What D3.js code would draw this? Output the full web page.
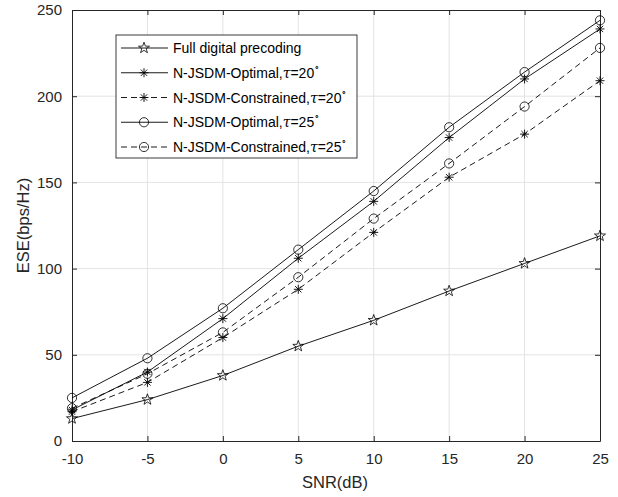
<!DOCTYPE html>
<html>
<head>
<meta charset="utf-8">
<script src="https://cdn.jsdelivr.net/npm/d3@7"></script>
<style>
  body { margin: 0; background: #fff; }
  svg { font-family: "Liberation Sans", Arial, sans-serif; }
</style>
</head>
<body>
<svg id="chart" width="618" height="497"></svg>
<script>
// chart data
const snr = [-10, -5, 0, 5, 10, 15, 20, 25];
const fullDigital = [13, 24, 38, 55, 70, 87, 103, 119];
const optimal20 = [18, 40, 71, 106, 139, 176, 210, 239];
const constrained20 = [17, 34, 60, 88, 121, 153, 178, 209];
const optimal25 = [25, 48, 77, 111, 145, 182, 214, 244];
const constrained25 = [19, 39, 63, 95, 129, 161, 194, 228];
const xTicks = [-10, -5, 0, 5, 10, 15, 20, 25];
const yTicks = [0, 50, 100, 150, 200, 250];

const series = [
  { name: 'Full digital precoding', tau: null, values: fullDigital, marker: 'star', dash: null },
  { name: 'N-JSDM-Optimal,', tau: '20', values: optimal20, marker: 'asterisk', dash: null },
  { name: 'N-JSDM-Constrained,', tau: '20', values: constrained20, marker: 'asterisk', dash: '6,4' },
  { name: 'N-JSDM-Optimal,', tau: '25', values: optimal25, marker: 'circle', dash: null },
  { name: 'N-JSDM-Constrained,', tau: '25', values: constrained25, marker: 'circle', dash: '6,4' }
];

const svg = d3.select('#chart');
const margin = { left: 72, right: 18, top: 10, bottom: 56 };
const width = 618 - margin.left - margin.right;
const height = 497 - margin.top - margin.bottom;
const axisColor = '#262626';

const x = d3.scaleLinear().domain([-10, 25]).range([0, width]);
const y = d3.scaleLinear().domain([0, 250]).range([height, 0]);

const g = svg.append('g').attr('transform', `translate(${margin.left},${margin.top})`);

// grid
g.append('g').selectAll('line')
  .data(xTicks.slice(1, -1))
  .enter().append('line')
  .attr('x1', d => x(d)).attr('x2', d => x(d))
  .attr('y1', 0).attr('y2', height)
  .attr('stroke', '#e3e3e3').attr('stroke-width', 1);
g.append('g').selectAll('line')
  .data(yTicks.slice(1, -1))
  .enter().append('line')
  .attr('y1', d => y(d)).attr('y2', d => y(d))
  .attr('x1', 0).attr('x2', width)
  .attr('stroke', '#e3e3e3').attr('stroke-width', 1);

// axes (inward ticks, box on)
const styleAxis = (sel) => {
  sel.select('.domain').attr('stroke', axisColor);
  sel.selectAll('.tick line').attr('stroke', axisColor);
  sel.selectAll('.tick text').attr('fill', axisColor).style('font-size', '15px')
    .style('font-family', '"Liberation Sans", Arial, sans-serif');
};
const plain = (d) => String(d);
g.append('g').attr('transform', `translate(0,${height})`)
  .call(d3.axisBottom(x).tickValues(xTicks).tickFormat(plain).tickSizeInner(-5).tickSizeOuter(0).tickPadding(12))
  .call(styleAxis);
g.append('g')
  .call(d3.axisLeft(y).tickValues(yTicks).tickFormat(plain).tickSizeInner(-5).tickSizeOuter(0).tickPadding(10))
  .call(styleAxis);
g.append('g')
  .call(d3.axisTop(x).tickValues(xTicks).tickSizeInner(-5).tickSizeOuter(0).tickFormat(''))
  .call(styleAxis);
g.append('g').attr('transform', `translate(${width},0)`)
  .call(d3.axisRight(y).tickValues(yTicks).tickSizeInner(-5).tickSizeOuter(0).tickFormat(''))
  .call(styleAxis);

// axis labels
svg.append('text')
  .attr('x', 335).attr('y', 488)
  .attr('text-anchor', 'middle').style('font-size', '16.5px').attr('fill', axisColor)
  .text('SNR(dB)');
svg.append('text')
  .attr('transform', `translate(29,${margin.top + height / 2}) rotate(-90)`)
  .attr('text-anchor', 'middle').style('font-size', '16.5px').attr('fill', axisColor)
  .text('ESE(bps/Hz)');

// markers
const starPath = (r) => {
  const pts = [];
  for (let i = 0; i < 10; i++) {
    const a = -Math.PI / 2 + i * Math.PI / 5;
    const rr = i % 2 === 0 ? r : r * 0.4;
    pts.push([rr * Math.cos(a), rr * Math.sin(a)]);
  }
  return 'M' + pts.map(p => p.join(',')).join('L') + 'Z';
};
const asteriskPath = (r) => {
  const d = r * 0.707;
  return `M${-r},0L${r},0M0,${-r}L0,${r}M${-d},${-d}L${d},${d}M${-d},${d}L${d},${-d}`;
};
const drawMarker = (sel, type) => {
  if (type === 'circle') {
    sel.append('circle').attr('r', 4.6).attr('fill', 'none').attr('stroke', '#000').attr('stroke-width', 0.8);
  } else if (type === 'star') {
    sel.append('path').attr('d', starPath(5.8)).attr('fill', 'none').attr('stroke', '#000').attr('stroke-width', 0.8);
  } else {
    sel.append('path').attr('d', asteriskPath(4.5)).attr('fill', 'none').attr('stroke', '#000').attr('stroke-width', 0.9);
  }
};

const line = d3.line().x((d, i) => x(snr[i])).y(d => y(d));

series.forEach(s => {
  g.append('path')
    .datum(s.values)
    .attr('d', line)
    .attr('fill', 'none')
    .attr('stroke', '#000')
    .attr('stroke-width', 0.9)
    .attr('stroke-dasharray', s.dash);
  g.append('g').selectAll('g')
    .data(s.values)
    .enter().append('g')
    .attr('transform', (d, i) => `translate(${x(snr[i])},${y(d)})`)
    .each(function () { drawMarker(d3.select(this), s.marker); });
});

// legend
const legend = svg.append('g').attr('transform', 'translate(116,35)');
legend.append('rect')
  .attr('x', 0).attr('y', 0).attr('width', 241).attr('height', 123)
  .attr('fill', '#fff').attr('stroke', axisColor).attr('stroke-width', 0.9);
const rowY = d3.scaleLinear().domain([0, 4]).range([13, 112]);
series.forEach((s, i) => {
  const row = legend.append('g').attr('transform', `translate(0,${rowY(i)})`);
  row.append('line')
    .attr('x1', 5).attr('x2', 52).attr('y1', 0).attr('y2', 0)
    .attr('stroke', '#000').attr('stroke-width', 0.9)
    .attr('stroke-dasharray', s.dash);
  const m = row.append('g').attr('transform', 'translate(28,0)');
  drawMarker(m, s.marker);
  const t = row.append('text').attr('x', 57).attr('y', 5).style('font-size', '14px').attr('fill', '#000');
  t.append('tspan').text(s.name);
  if (s.tau) {
    t.append('tspan').attr('font-family', '"DejaVu Serif", serif').style('font-style', 'italic').text('τ');
    t.append('tspan').text('=' + s.tau);
    t.append('tspan').attr('dy', -7).style('font-size', '9px').text('∘');
  }
});
</script>
</body>
</html>
